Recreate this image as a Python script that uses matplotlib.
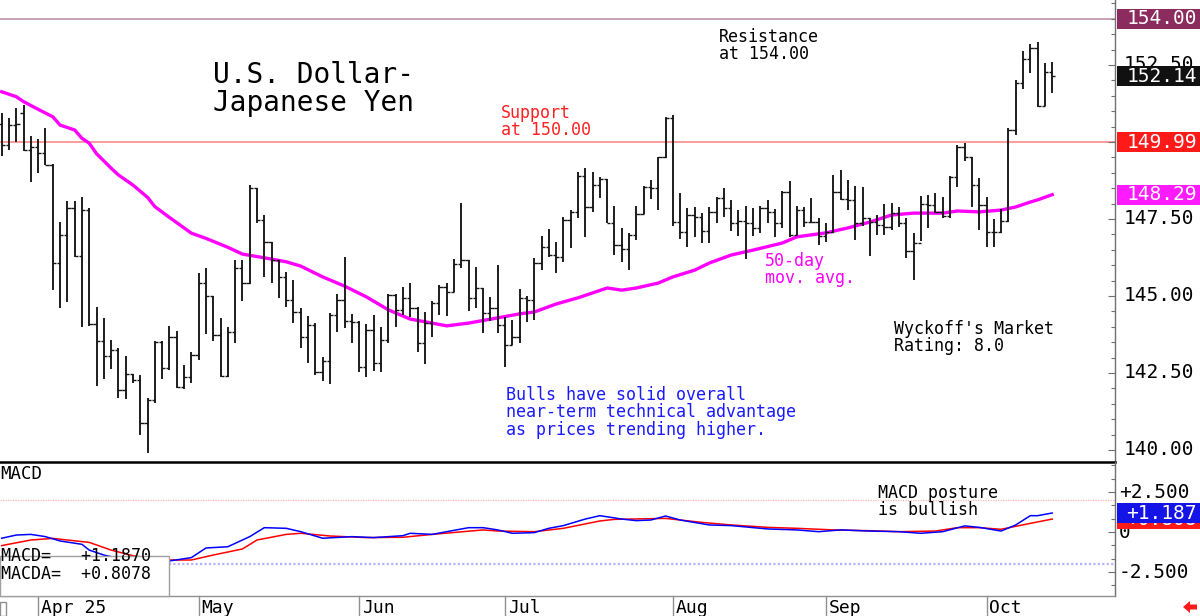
import numpy as np
import pandas as pd
import matplotlib
matplotlib.use('Agg')
import matplotlib.pyplot as plt
import matplotlib.transforms as mtransforms
from matplotlib.patches import Rectangle, Polygon
from matplotlib.ticker import MultipleLocator

#==============================================================================
# data: USD/JPY daily bars, 25 Mar - 14 Oct 2025
# (the chart skips 19 Jun)

dates = pd.bdate_range('2025-03-25', '2025-10-14').drop(pd.Timestamp('2025-06-19'))

opens = [150.60, 149.90, 150.55, 150.95, 149.75, 149.84, 149.64, 149.25, 146.07, 146.98,
         147.85, 146.30, 147.80, 144.10, 143.54, 143.05, 143.25, 141.95, 142.47, 142.27,
         140.88, 141.62, 143.50, 142.66, 143.67, 142.05, 142.37, 143.08, 145.42, 145.00,
         143.73, 142.40, 143.83, 145.90, 145.42, 148.50, 147.47, 146.75, 146.17, 145.62,
         144.87, 144.48, 143.67, 144.06, 142.53, 142.89, 144.38, 144.87, 144.19, 144.16,
         142.69, 143.90, 142.82, 143.57, 145.03, 144.55, 144.94, 144.61, 143.47, 144.12,
         144.77, 145.29, 145.13, 146.05, 146.17, 144.94, 145.26, 144.45, 144.61, 144.06,
         143.41, 143.67, 144.94, 144.87, 146.07, 146.59, 146.33, 146.27, 147.47, 147.73,
         148.90, 147.89, 148.60, 148.80, 147.37, 146.66, 146.53, 146.98, 147.66, 148.54,
         148.50, 149.51, 150.78, 147.40, 147.08, 147.63, 147.56, 147.11, 147.73, 148.18,
         147.86, 147.37, 147.45, 147.37, 147.21, 147.86, 147.73, 147.37, 148.38, 146.98,
         147.79, 147.40, 147.40, 146.95, 147.08, 148.38, 148.15, 148.12, 147.37, 147.53,
         147.40, 147.30, 147.24, 147.69, 147.37, 146.46, 146.72, 148.00, 147.95, 147.73,
         147.60, 148.85, 149.84, 149.50, 148.60, 147.95, 147.08, 147.08, 147.44, 150.39,
         151.92, 152.69, 153.05, 151.17, 152.27]

highs = [150.94, 150.78, 151.10, 151.20, 150.20, 150.10, 150.45, 149.30, 147.40, 148.10,
         148.10, 148.20, 147.86, 144.64, 144.30, 143.57, 143.30, 143.05, 142.47, 142.43,
         141.69, 143.54, 143.55, 144.03, 143.86, 142.76, 143.18, 145.75, 145.90, 145.00,
         144.29, 143.99, 146.17, 146.17, 148.60, 148.50, 147.63, 146.75, 146.17, 145.78,
         145.52, 144.61, 144.35, 144.12, 143.02, 144.45, 145.06, 146.27, 144.42, 144.20,
         144.09, 144.38, 143.99, 145.06, 145.05, 145.29, 145.42, 144.65, 144.48, 144.84,
         145.36, 145.42, 146.20, 148.02, 146.17, 145.94, 145.26, 144.97, 146.00, 144.32,
         144.22, 145.23, 145.00, 146.23, 146.95, 147.18, 146.75, 147.56, 147.79, 149.03,
         149.16, 149.03, 148.86, 148.80, 147.92, 147.21, 147.05, 147.92, 148.57, 148.77,
         149.51, 150.81, 150.88, 148.34, 147.86, 147.89, 147.69, 147.89, 148.21, 148.51,
         148.12, 147.80, 147.92, 147.86, 147.92, 148.12, 147.82, 148.41, 148.73, 147.92,
         147.89, 148.18, 147.53, 147.37, 148.93, 149.09, 148.77, 148.57, 148.54, 147.53,
         147.63, 147.99, 148.02, 147.89, 147.53, 147.05, 148.25, 148.28, 148.34, 148.21,
         148.90, 149.90, 149.97, 149.50, 148.83, 148.21, 147.50, 147.82, 150.45, 152.01,
         152.95, 153.18, 153.25, 152.56, 152.60]

lows = [149.55, 149.74, 150.00, 149.70, 148.70, 149.00, 149.25, 145.20, 144.60, 144.80,
        146.27, 144.00, 144.03, 142.08, 142.30, 142.63, 141.70, 141.66, 142.18, 140.49,
        139.90, 141.53, 142.30, 142.60, 142.01, 141.98, 142.18, 142.92, 143.77, 143.54,
        142.37, 142.38, 143.47, 144.84, 145.40, 147.37, 145.62, 145.42, 144.94, 144.64,
        144.12, 143.31, 142.82, 142.43, 142.24, 142.14, 143.83, 143.96, 143.47, 142.53,
        142.37, 142.56, 142.53, 143.47, 143.99, 144.38, 144.32, 143.18, 142.79, 143.67,
        144.38, 144.35, 145.13, 145.90, 144.51, 144.61, 143.80, 144.19, 143.80, 142.69,
        143.41, 143.47, 144.16, 144.22, 145.84, 146.27, 145.75, 146.10, 146.56, 147.53,
        146.92, 147.73, 148.18, 147.37, 146.33, 146.10, 145.84, 146.82, 147.66, 148.15,
        147.79, 149.48, 147.27, 146.85, 146.59, 146.92, 146.72, 146.72, 147.37, 147.56,
        147.11, 146.95, 146.20, 146.95, 147.05, 147.37, 146.92, 147.21, 146.92, 146.98,
        147.24, 147.37, 146.66, 146.75, 147.05, 148.12, 147.79, 146.82, 147.27, 146.30,
        146.98, 146.98, 147.14, 147.24, 146.23, 145.52, 146.79, 147.21, 147.69, 147.53,
        147.53, 148.54, 149.38, 147.89, 147.14, 146.59, 146.59, 147.05, 147.40, 150.23,
        151.72, 152.24, 151.14, 151.17, 151.59]

closes = [149.90, 150.55, 150.60, 149.75, 149.84, 149.64, 149.25, 146.07, 146.98, 147.85,
          146.30, 147.80, 144.10, 143.54, 143.05, 143.25, 141.95, 142.47, 142.27, 140.88,
          141.62, 143.50, 142.66, 143.67, 142.05, 142.37, 143.08, 145.42, 145.00, 143.73,
          142.40, 143.83, 145.90, 145.42, 148.50, 147.47, 146.75, 146.17, 145.62, 144.87,
          144.48, 143.67, 144.06, 142.53, 142.89, 144.38, 144.87, 144.19, 144.16, 142.69,
          143.90, 142.82, 143.57, 145.03, 144.55, 144.94, 144.61, 143.47, 144.12, 144.77,
          145.29, 145.13, 146.05, 146.17, 144.94, 145.26, 144.45, 144.61, 144.06, 143.41,
          143.67, 144.94, 144.87, 146.07, 146.59, 146.33, 146.27, 147.47, 147.73, 148.90,
          147.89, 148.60, 148.80, 147.37, 146.66, 146.53, 146.98, 147.66, 148.54, 148.50,
          149.51, 150.78, 147.40, 147.08, 147.63, 147.56, 147.11, 147.73, 148.18, 147.86,
          147.37, 147.45, 147.37, 147.21, 147.86, 147.73, 147.37, 148.38, 146.98, 147.79,
          147.40, 147.40, 146.95, 147.08, 148.38, 148.15, 148.12, 147.37, 147.53, 147.40,
          147.30, 147.24, 147.69, 147.37, 146.46, 146.72, 148.00, 147.95, 147.73, 147.60,
          148.85, 149.84, 149.50, 148.60, 147.95, 147.08, 147.08, 147.44, 150.39, 151.92,
          152.69, 153.05, 151.17, 152.27, 152.14]

# 50-day moving average, read at these bar numbers
ma_bar = [0, 2, 3, 5, 7, 8, 10, 11, 12, 13, 15, 16, 18, 20, 21, 23, 26, 28, 31, 33,
          36, 39, 41, 44, 47, 50, 53, 56, 59, 61, 64, 68, 71, 73, 76, 79, 83, 85, 87, 90,
          92, 95, 97, 100, 103, 107, 109, 113, 116, 119, 122, 125, 129, 131, 134, 137, 139,
          141, 142, 144]
ma_val = [151.63, 151.47, 151.31, 151.06, 150.82, 150.55, 150.39, 150.12, 149.96, 149.62,
          149.15, 148.93, 148.60, 148.20, 147.90, 147.55, 147.04, 146.87, 146.58, 146.36,
          146.24, 146.11, 145.97, 145.62, 145.32, 144.97, 144.55, 144.25, 144.12, 144.03,
          144.12, 144.29, 144.42, 144.48, 144.74, 144.94, 145.26, 145.19, 145.26, 145.42,
          145.62, 145.84, 146.07, 146.33, 146.49, 146.72, 146.92, 147.05, 147.21, 147.40,
          147.63, 147.69, 147.69, 147.76, 147.73, 147.79, 147.89, 148.05, 148.12, 148.29]

# MACD (blue) and its average MACDA (red)
macd_bar = [0, 2, 4, 6, 8, 11, 12, 14, 17, 20, 23, 26, 28, 31, 34, 36, 39, 41, 44, 48,
            51, 55, 56, 59, 61, 64, 66, 68, 70, 73, 75, 77, 80, 82, 85, 87, 89, 91, 93, 97,
            100, 105, 109, 112, 115, 119, 123, 126, 129, 132, 134, 137, 139, 141, 142, 144]
macd_val = [-0.39, -0.19, -0.15, -0.29, -0.56, -0.77, -1.13, -1.44, -1.75, -1.95,
            -1.81, -1.60, -1.00, -0.92, -0.29, 0.27, 0.23, 0.02, -0.39, -0.29,
            -0.35, -0.23, -0.08, -0.15, 0.02, 0.27, 0.27, 0.13, -0.08, -0.04,
            0.23, 0.40, 0.81, 1.02, 0.81, 0.71, 0.75, 1.00, 0.75, 0.44,
            0.40, 0.19, 0.13, 0.02, 0.13, 0.06, 0.02, -0.08, 0.02, 0.38,
            0.29, 0.06, 0.44, 1.02, 1.02, 1.187]
sig_bar = [0, 4, 7, 12, 15, 18, 22, 26, 29, 33, 35, 39, 41, 45, 50, 55, 59, 66, 68, 73,
           77, 82, 84, 91, 96, 100, 105, 109, 114, 119, 123, 128, 131, 134, 137, 141, 144]
sig_val = [-0.85, -0.50, -0.40, -0.65, -1.13, -1.48, -1.75, -1.75, -1.44, -1.06,
           -0.50, -0.15, -0.08, -0.25, -0.35, -0.33, -0.15, 0.13, 0.06, 0.02,
           0.23, 0.69, 0.79, 0.85, 0.60, 0.44, 0.29, 0.23, 0.13, 0.08,
           0.02, 0.06, 0.27, 0.27, 0.17, 0.54, 0.8078]

resistance = 154.00
support = 149.99
price_ticks = [140.0, 142.5, 145.0, 147.5, 150.0, 152.5]
price_labels = ['140.00', '142.50', '145.00', '147.50', '', '152.50']  # 150 sits under the tag
macd_ticks = [2.5, 0.0, -2.5]
macd_tick_labels = ['+2.500', '0', '-2.500']

#==============================================================================

plt.rcParams['font.family'] = ['DejaVu Sans Mono']

W, H = 1200, 616
fig = plt.figure(figsize=(W / 100, H / 100), dpi=100)
ax = fig.add_axes([0, 1 - 462 / H, 1115 / W, 462 / H])
axm = fig.add_axes([0, 1 - 596 / H, 1115 / W, 134 / H])

n = len(dates)
x = np.arange(n)
xlim = (-1.7 / 7.295, (1115 - 1.7) / 7.295)

# ---- price panel
ax.axhline(resistance, color='#c9a3b6', lw=1.4, zorder=1)
ax.axhline(support, color='#ff9a9a', lw=1.4, zorder=1)
ax.vlines(x, lows, highs, color='#151515', lw=1.35, zorder=3)
ax.hlines(opens, x - 0.45, x, color='#151515', lw=1.0, zorder=3)
ax.hlines(closes, x, x + 0.45, color='#151515', lw=1.0, zorder=3)
ax.plot(ma_bar, ma_val, color='#ff00ff', lw=2.4, zorder=2, solid_joinstyle='round')

ax.set_xlim(xlim)
ax.set_ylim(139.61, 154.61)

# ---- MACD panel
axm.axhline(2.0, color='#ffb4b4', lw=0.9, ls=(0, (1, 1)))
axm.axhline(-2.0, color='#b4b4ff', lw=1.6, ls=(0, (1, 1)))
axm.plot(sig_bar, sig_val, color='#ff0000', lw=1.1)
axm.plot(macd_bar, macd_val, color='#0000ff', lw=1.1)
axm.set_xlim(xlim)
axm.set_ylim(-4.0, 4.375)

for a in (ax, axm):
    a.set_xticks([])
    a.spines['left'].set_visible(False)
    a.spines['top'].set_visible(False)
    a.spines['right'].set_color('#707070')
    a.spines['right'].set_linewidth(1.0)
    a.yaxis.set_ticks_position('right')
    a.tick_params(axis='y', which='both', direction='in', labelright=False,
                  labelleft=False, color='#707070', width=0.8)
    a.tick_params(axis='y', which='major', length=5)
    a.tick_params(axis='y', which='minor', length=3)
    a.patch.set_alpha(0)
ax.spines['bottom'].set_color('black')
ax.spines['bottom'].set_linewidth(1.8)
axm.spines['bottom'].set_color('#909090')
axm.spines['bottom'].set_linewidth(1.0)

ax.set_yticks(price_ticks)
ax.yaxis.set_minor_locator(MultipleLocator(0.5))
axm.set_yticks(macd_ticks)
axm.yaxis.set_minor_locator(MultipleLocator(2.5 / 3))

# right axis labels
ytr = mtransforms.blended_transform_factory(ax.transAxes, ax.transData)
for v, s in zip(price_ticks, price_labels):
    if s:
        ax.text(1124 / 1115, v, s, transform=ytr, ha='left', va='center',
                fontsize=14, color='black', clip_on=False)
mtr = mtransforms.blended_transform_factory(axm.transAxes, axm.transData)
for v, s in zip(macd_ticks, macd_tick_labels):
    axm.text(1119 / 1115, v, s, transform=mtr, ha='left', va='center',
             fontsize=14, color='black', clip_on=False)

z_tag = [5]


def tag(axis, val, txt, color):
    # coloured value box at the right edge; later boxes sit on top of earlier ones
    tr = mtransforms.blended_transform_factory(fig.transFigure, axis.transData)
    y0, y1 = axis.get_ylim()
    h = 20 * (y1 - y0) / (axis.get_position().height * H)
    fig.add_artist(Rectangle((1116.5 / W, val - h / 2), 1 - 1116.5 / W, h,
                             transform=tr, facecolor=color, edgecolor='none',
                             zorder=z_tag[0]))
    fig.text(1197 / W, val, txt, transform=tr, ha='right', va='center',
             color='white', fontsize=14, zorder=z_tag[0] + 1)
    z_tag[0] += 2


tag(ax, resistance, '%.2f' % resistance, '#8c2b5e')
tag(ax, closes[-1], '%.2f' % closes[-1], '#111111')
tag(ax, support, '%.2f' % support, '#ff1a1a')
tag(ax, ma_val[-1], '%.2f' % ma_val[-1], '#ff1aff')
tag(axm, sig_val[-1], '%+.3f' % sig_val[-1], '#ff1a1a')
tag(axm, macd_val[-1], '%+.3f' % macd_val[-1], '#1414e6')

# ---- annotations
ax.text(213 / 1115, 1 - 61 / 462, 'U.S. Dollar-\nJapanese Yen', transform=ax.transAxes,
        fontsize=20, va='top', ha='left', linespacing=1.0)
ax.text(719 / 1115, 1 - 28 / 462, 'Resistance\nat %.2f' % resistance, transform=ax.transAxes,
        fontsize=12, va='top', linespacing=0.95)
ax.text(501 / 1115, 1 - 104 / 462, 'Support\nat 150.00', transform=ax.transAxes,
        fontsize=12, va='top', color='#ff2020', linespacing=0.95)
ax.text(765 / 1115, 1 - 252 / 462, '50-day\nmov. avg.', transform=ax.transAxes,
        fontsize=12, va='top', color='#ff00ff', linespacing=0.95)
ax.text(894 / 1115, 1 - 320 / 462, "Wyckoff's Market\nRating: 8.0", transform=ax.transAxes,
        fontsize=12, va='top', linespacing=0.95)
ax.text(506 / 1115, 1 - 386 / 462,
        'Bulls have solid overall\nnear-term technical advantage\nas prices trending higher.',
        transform=ax.transAxes, fontsize=12, va='top', color='#1a1aff', linespacing=0.95)

axm.text(0.0, 1 - 3 / 134, 'MACD', transform=axm.transAxes, fontsize=12.5, va='top')
axm.text(878 / 1115, 1 - 22 / 134, 'MACD posture\nis bullish', transform=axm.transAxes,
         fontsize=12, va='top', linespacing=0.95)

# value box lower left
axm.add_patch(Rectangle((0, 0), 169 / 1115, 40 / 134, transform=axm.transAxes,
                        facecolor='white', edgecolor='#a0a0a0', lw=1.0, zorder=6,
                        clip_on=False))
axm.text(1 / 1115, 1 - 103 / 134,
         'MACD=   %+.4f\nMACDA=  %+.4f' % (macd_val[-1], sig_val[-1]),
         transform=axm.transAxes, fontsize=12, va='center', linespacing=1.0, zorder=7)

# ---- month labels along the bottom
btr = mtransforms.blended_transform_factory(axm.transData, axm.transAxes)
first = True
for i in range(1, n):
    if dates[i].month != dates[i - 1].month:
        lab = dates[i].strftime('%b %y') if first else dates[i].strftime('%b')
        first = False
        axm.plot([i, i], [0, -20 / 134], transform=btr, color='#909090', lw=1.0,
                 clip_on=False)
        axm.text(i + 0.4, -17 / 134, lab, transform=btr, fontsize=13, va='baseline',
                 ha='left', clip_on=False)
fig.add_artist(Rectangle((0, 0), 6 / W, 14 / H, transform=fig.transFigure,
                         facecolor='white', edgecolor='#909090', lw=1.0))

# little red arrow bottom right
arrow = [(1183, 607), (1190, 601), (1190, 604.5), (1197, 604.5),
         (1197, 609.5), (1190, 609.5), (1190, 613)]
fig.add_artist(Polygon([(px / W, 1 - py / H) for px, py in arrow], closed=True,
                       transform=fig.transFigure, facecolor='#ff1a1a', edgecolor='none'))

fig.savefig('out.png', dpi=100, facecolor='white')
